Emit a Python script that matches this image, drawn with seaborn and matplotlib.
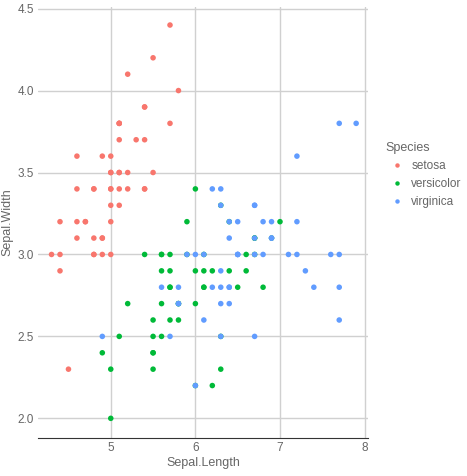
import matplotlib
matplotlib.use("Agg")
import matplotlib.pyplot as plt
import seaborn as sns
import pandas as pd

setosa_sl = [5.1,4.9,4.7,4.6,5.0,5.4,4.6,5.0,4.4,4.9,5.4,4.8,4.8,4.3,5.8,5.7,5.4,5.1,5.7,5.1,5.4,5.1,4.6,5.1,4.8,5.0,5.0,5.2,5.2,4.7,4.8,5.4,5.2,5.5,4.9,5.0,5.5,4.9,4.4,5.1,5.0,4.5,4.4,5.0,5.1,4.8,5.1,4.6,5.3,5.0]
setosa_sw = [3.5,3.0,3.2,3.1,3.6,3.9,3.4,3.4,2.9,3.1,3.7,3.4,3.0,3.0,4.0,4.4,3.9,3.5,3.8,3.8,3.4,3.7,3.6,3.3,3.4,3.0,3.4,3.5,3.4,3.2,3.1,3.4,4.1,4.2,3.1,3.2,3.5,3.6,3.0,3.4,3.5,2.3,3.2,3.5,3.8,3.0,3.8,3.2,3.7,3.3]
versi_sl = [7.0,6.4,6.9,5.5,6.5,5.7,6.3,4.9,6.6,5.2,5.0,5.9,6.0,6.1,5.6,6.7,5.6,5.8,6.2,5.6,5.9,6.1,6.3,6.1,6.4,6.6,6.8,6.7,6.0,5.7,5.5,5.5,5.8,6.0,5.4,6.0,6.7,6.3,5.6,5.5,5.5,6.1,5.8,5.0,5.6,5.7,5.7,6.2,5.1,5.7]
versi_sw = [3.2,3.2,3.1,2.3,2.8,2.8,3.3,2.4,2.9,2.7,2.0,3.0,2.2,2.9,2.9,3.1,3.0,2.7,2.2,2.5,3.2,2.8,2.5,2.8,2.9,3.0,2.8,3.0,2.9,2.6,2.4,2.4,2.7,2.7,3.0,3.4,3.1,2.3,3.0,2.5,2.6,3.0,2.6,2.3,2.7,3.0,2.9,2.9,2.5,2.8]
virg_sl = [6.3,5.8,7.1,6.3,6.5,7.6,4.9,7.3,6.7,7.2,6.5,6.4,6.8,5.7,5.8,6.4,6.5,7.7,7.7,6.0,6.9,5.6,7.7,6.3,6.7,7.2,6.2,6.1,6.4,7.2,7.4,7.9,6.4,6.3,6.1,7.7,6.3,6.4,6.0,6.9,6.7,6.9,5.8,6.8,6.7,6.7,6.3,6.5,6.2,5.9]
virg_sw = [3.3,2.7,3.0,2.9,3.0,3.0,2.5,2.9,2.5,3.6,3.2,2.7,3.0,2.5,2.8,3.2,3.0,3.8,2.6,2.2,3.2,2.8,2.8,2.7,3.3,3.2,2.8,3.0,2.8,3.0,2.8,3.8,2.8,2.8,2.6,3.0,3.4,3.1,3.0,3.1,3.1,3.1,2.7,3.2,3.3,3.0,2.5,3.0,3.4,3.0]
species = ["setosa", "versicolor", "virginica"]
colors = ["#F8766D", "#00BA38", "#619CFF"]

df = pd.DataFrame({
    "Sepal.Length": setosa_sl + versi_sl + virg_sl,
    "Sepal.Width": setosa_sw + versi_sw + virg_sw,
    "Species": ["setosa"]*50 + ["versicolor"]*50 + ["virginica"]*50,
})

sns.set_style("white")
plt.rcParams["font.family"] = ["Liberation Sans", "DejaVu Sans"]
fig = plt.figure(figsize=(4.67, 4.76), dpi=100)
ax = fig.add_axes([38/467, 1-438/476, 330/467, 431/476])
sns.scatterplot(data=df, x="Sepal.Length", y="Sepal.Width", hue="Species",
                hue_order=species, palette=colors, s=16, linewidth=0, ax=ax, zorder=3)
ax.set_xlim(4.14, 8.04)
ax.set_ylim(1.88, 4.51)
ax.set_xticks([5, 6, 7, 8])
ax.set_yticks([2.0, 2.5, 3.0, 3.5, 4.0, 4.5])
ax.set_yticklabels(["2.0", "2.5", "3.0", "3.5", "4.0", "4.5"])
ax.grid(True, color="#d0d0d0", linewidth=1)
for s in ["top", "right", "left"]:
    ax.spines[s].set_visible(False)
ax.spines["bottom"].set_color("#333333")
ax.tick_params(colors="#666666", labelsize=8.5, length=0, pad=3)
ax.set_xlabel("Sepal.Length", color="#666666", fontsize=9, labelpad=2)
ax.set_ylabel("Sepal.Width", color="#666666", fontsize=9, labelpad=3)
leg = ax.legend(title="Species", loc="center left", bbox_to_anchor=(1.02, 0.61),
                frameon=False, fontsize=8.5, title_fontsize=9, markerscale=0.8,
                handletextpad=0.2, alignment="left")
for t in leg.get_texts():
    t.set_color("#666666")
leg.get_title().set_color("#666666")
fig.savefig("out.png", dpi=100)
